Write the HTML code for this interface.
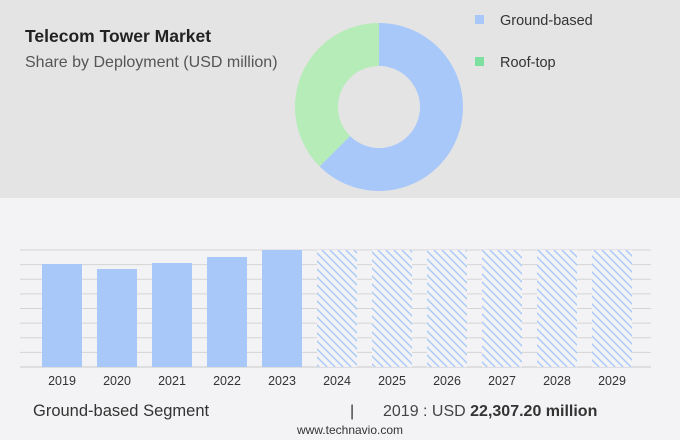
<!DOCTYPE html>
<html><head><meta charset="utf-8"><style>
body{margin:0;width:680px;height:440px;overflow:hidden;background:#f3f3f5;font-family:"Liberation Sans",sans-serif;}
svg{display:block}
</style></head><body>
<svg width="680" height="440">
<defs><pattern id="hatch" width="8" height="8" patternUnits="userSpaceOnUse">
<rect width="8" height="8" fill="#f3f3f5"/><path d="M0,0 L8,8 M-2,6 L2,10 M6,-2 L10,2" stroke="#a8c8fa" stroke-width="1.4"/></pattern></defs>
<rect x="0" y="0" width="680" height="198" fill="#e4e4e4"/>
<text x="25" y="42" font-size="17.5" font-weight="bold" fill="#222">Telecom Tower Market</text>
<text x="25" y="67" font-size="16" fill="#555">Share by Deployment (USD million)</text>
<g id="donut"></g>
<rect x="475" y="15" width="9" height="9" fill="#a8c8fa"/>
<text x="500" y="25" font-size="14.5" fill="#333">Ground-based</text>
<rect x="475" y="57" width="9" height="9" fill="#7ee0a0"/>
<text x="500" y="67" font-size="14.5" fill="#333">Roof-top</text>
<g id="grid"></g><g id="bars"></g><g id="xlabels"></g>
<text x="33" y="416" font-size="16.5" fill="#333">Ground-based Segment</text>
<text x="350" y="416" font-size="16" fill="#333">|</text>
<text x="383" y="416" font-size="16" fill="#444">2019 : USD <tspan font-weight="bold" fill="#333">22,307.20 million</tspan></text>
<text x="350" y="434" font-size="12" fill="#333" text-anchor="middle">www.technavio.com</text>
</svg>
<script>
const years=["2019","2020","2021","2022","2023","2024","2025","2026","2027","2028","2029"];
const values=[22307.2,21224,22524,23823,25340,null,null,null,null,null,null];
const forecast=[false,false,false,false,false,true,true,true,true,true,true];
const shareLabels=["Ground-based","Roof-top"];
const shares=[62.5,37.5];
const NS="http://www.w3.org/2000/svg";
const yMax=25340,base=367,plotH=117,x0=42,slot=55,bw=40;
const y=v=>base-v/yMax*plotH;
const xs=i=>x0+i*slot;
function mk(t,a,p){const e=document.createElementNS(NS,t);for(const k in a)e.setAttribute(k,a[k]);p.appendChild(e);return e;}
const grid=document.getElementById('grid');
for(let i=0;i<=8;i++){const gy=base-i*plotH/8;
const l=mk('line',{x1:20,x2:651,y1:gy,y2:gy,stroke:i==0?'#c8c8c8':'#d4d4d4','stroke-width':1},grid);

}
const bars=document.getElementById('bars'),xl=document.getElementById('xlabels');
years.forEach((yr,i)=>{
const v=forecast[i]?yMax:values[i];
const r=mk('rect',{x:xs(i),y:y(v),width:bw,height:base-y(v),fill:forecast[i]?'url(#hatch)':'#a8c8fa'},bars);


const t=mk('text',{x:xs(i)+bw/2,y:385,'font-size':12.5,fill:'#333','text-anchor':'middle'},xl);t.textContent=yr;


});
const dn=document.getElementById('donut');const cx=379,cy=107,R=84,r0=41;const cols=['#a8c8fa','#b6ecb8'];
let a=0;const tot=shares.reduce((s,v)=>s+v,0);
shares.forEach((s,i)=>{const a1=a+s/tot*2*Math.PI;
const p=(ang,rad)=>[cx+rad*Math.sin(ang),cy-rad*Math.cos(ang)];
const lg=(a1-a)>Math.PI?1:0;const[p1,p2,p3,p4]=[p(a,R),p(a1,R),p(a1,r0),p(a,r0)];
const path=mk('path',{d:`M${p1}A${R},${R} 0 ${lg} 1 ${p2}L${p3}A${r0},${r0} 0 ${lg} 0 ${p4}Z`,fill:cols[i]},dn);


a=a1;});
</script>
</body></html>
